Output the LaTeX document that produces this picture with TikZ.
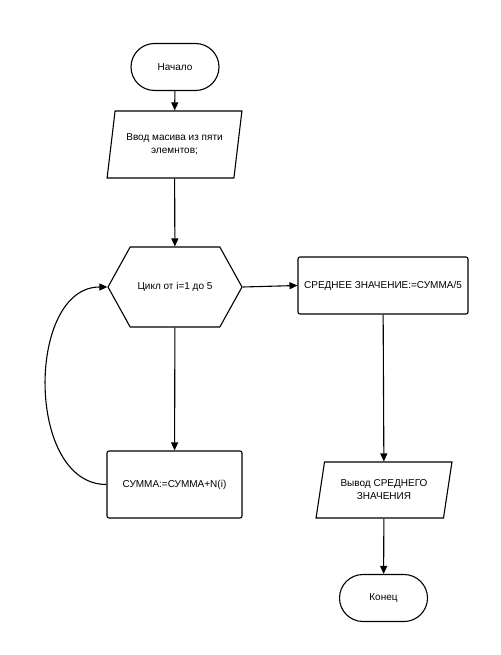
\documentclass[tikz,border=0pt]{standalone}
\usepackage{fontspec}
\setmainfont{Liberation Sans}
\usetikzlibrary{shapes.geometric,shapes.misc,shapes.symbols,arrows.meta}

\begin{document}
\begin{tikzpicture}[x=1pt,y=-1pt]
            \tikzset{
                block/.style={draw,line width=1.1pt,font=\fontsize{10}{13}\selectfont,align=center,inner sep=2pt},
                terminal/.style={block,rounded rectangle,minimum width=92pt,minimum height=47pt},
                io/.style={block,trapezium,trapezium left angle=75,trapezium right angle=105,trapezium stretches=true},
                cycle/.style={block,signal,signal to=west and east,signal pointer angle=122,minimum width=134pt,minimum height=80pt},
                process/.style={block,rounded corners=2pt},
                link/.style={line width=1.1pt,-{Triangle[length=8pt,width=7pt]}},}
            \useasboundingbox[fill=white] (0,0) rectangle (500,655);
            \node[terminal] (start) at (175,67) {Начало};
            \node[io,minimum width=135pt,minimum height=67pt] (input) at (174.5,144.5) {Ввод масива из пяти\\элемнтов;};
            \node[cycle] (loop) at (175,287) {Цикл от i=1 до 5};
            \node[process,minimum width=135pt,minimum height=67pt] (sum) at (174.5,484.5) {СУММА:=СУММА+N(i)};
            \node[process,minimum width=170pt,minimum height=57pt] (mean) at (383,285.5) {СРЕДНЕЕ ЗНАЧЕНИЕ:=СУММА/5};
            \node[io,minimum width=136pt,minimum height=56pt] (output) at (384,490) {Вывод СРЕДНЕГО\\ЗНАЧЕНИЯ};
            \node[terminal] (stop) at (383.5,598) {Конец};
            % connectors
            \draw[link] (start) -- (input);
            \draw[link] (input) -- (loop);
            \draw[link] (loop) -- (sum);
            \draw[link] (sum.west) to[out=180,in=180,looseness=1.05] (loop.west);
            \draw[link] (loop.east) -- (mean.west);
            \draw[link] (mean) -- (output);
            \draw[link] (output) -- (stop);
        \end{tikzpicture}
\end{document}
